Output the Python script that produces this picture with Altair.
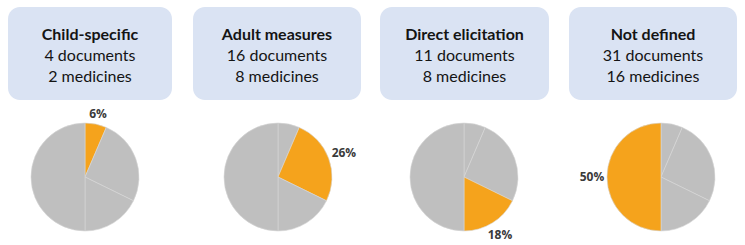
import altair as alt
import pandas as pd

# ---- data ----
categories = ["Child-specific", "Adult measures", "Direct elicitation", "Not defined"]
documents = [4, 16, 11, 31]
medicines = [2, 8, 8, 16]
percent_labels = ["6%", "26%", "18%", "50%"]

# ---- styles / layout ----
GRAY = "#bfbfbf"
ORANGE = "#f5a31c"
BOX = "#dae3f3"
TEXT = "#141414"
LABEL = "#3a3a3a"
FONT = "Lato"
PW, PH = 186, 245
layout = [
    dict(bx=8, bx2=172, px=85),
    dict(bx=7, bx2=175, px=92),
    dict(bx=8, bx2=177, px=92),
    dict(bx=11, bx2=179, px=103),
]
PIE_Y, PIE_R = 177, 54
# label sits just outside the arc: radius grows with label half-extent
LABEL_EXPR = "56 + 13*abs(sin(datum.mid)) + 6*abs(cos(datum.mid))"


def panel(i):
    L = layout[i]
    cx_box = (L["bx"] + L["bx2"]) / 2
    one = pd.DataFrame({"k": [0]})
    slices = pd.DataFrame({
        "slice": categories,
        "order": list(range(len(categories))),
        "documents": documents,
        "label": percent_labels,
        "highlight": [j == i for j in range(len(categories))],
    })

    box = alt.Chart(one).mark_rect(color=BOX, cornerRadius=12).encode(
        x=alt.value(L["bx"]), x2=alt.value(L["bx2"]),
        y=alt.value(7), y2=alt.value(100),
    )
    head = pd.DataFrame({
        "t": [categories[i], f"{documents[i]} documents", f"{medicines[i]} medicines"],
    })
    title = alt.Chart(head.iloc[[0]]).mark_text(
        font=FONT, fontSize=16, fontWeight="bold", color=TEXT, align="center", baseline="middle"
    ).encode(text="t:N", x=alt.value(cx_box), y=alt.value(35))
    line2 = alt.Chart(head.iloc[[1]]).mark_text(
        font=FONT, fontSize=16, color=TEXT, align="center", baseline="middle"
    ).encode(text="t:N", x=alt.value(cx_box), y=alt.value(56))
    line3 = alt.Chart(head.iloc[[2]]).mark_text(
        font=FONT, fontSize=16, color=TEXT, align="center", baseline="middle"
    ).encode(text="t:N", x=alt.value(cx_box), y=alt.value(77))

    pie = alt.Chart(slices).mark_arc(
        outerRadius=PIE_R, stroke="#d6d6d6", strokeWidth=0.6
    ).encode(
        theta=alt.Theta("documents:Q", stack=True),
        order=alt.Order("order:Q"),
        color=alt.condition("datum.highlight", alt.value(ORANGE), alt.value(GRAY)),
        x=alt.value(L["px"]), y=alt.value(PIE_Y),
    )
    lab = alt.Chart(slices).transform_window(
        cum="sum(documents)", sort=[alt.SortField("order")], frame=[None, 0]
    ).transform_joinaggregate(
        total="sum(documents)"
    ).transform_calculate(
        mid="2*PI*(datum.cum - datum.documents/2)/datum.total",
    ).transform_calculate(
        r=LABEL_EXPR,
    ).transform_filter(
        "datum.highlight"
    ).mark_text(
        font="Open Sans", fontSize=12, fontWeight="bold", color=LABEL
    ).encode(
        theta=alt.Theta("mid:Q", scale=None, stack=None),
        radius=alt.Radius("r:Q", scale=None),
        text="label:N",
        x=alt.value(L["px"]), y=alt.value(PIE_Y),
    )
    return alt.layer(box, title, line2, line3, pie, lab).properties(width=PW, height=PH)


chart = alt.hconcat(*[panel(i) for i in range(4)], spacing=0).properties(
    padding=0, background="white"
).configure_view(stroke=None)

chart.save("out.html", embed_options={"renderer": "svg", "actions": False})
